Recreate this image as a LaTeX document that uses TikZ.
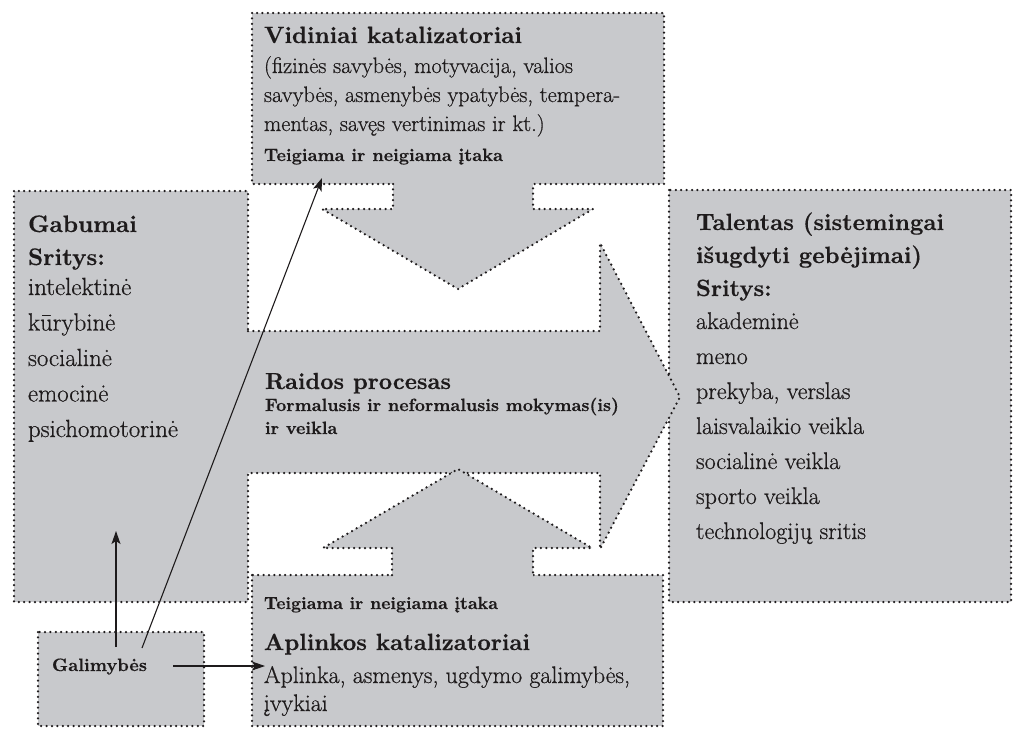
\documentclass[tikz,border=0pt]{standalone}
\usepackage{fontspec}
\usetikzlibrary{arrows.meta}
\newfontfamily\lmthick{lmroman17-regular.otf}[FakeBold=0.6]
\newfontfamily\lmbold{lmroman10-bold.otf}[FakeBold=0.4]
\definecolor{boxgray}{RGB}{200,201,204}
\definecolor{ink}{RGB}{30,27,28}
\newlength\fitlen
\newcommand\fitsize[4]{%
  \settowidth\fitlen{\fontsize{20}{24}\selectfont#3#4}%
  \pgfmathsetmacro#1{20*#2/\fitlen}\global\let#1#1}
\newcommand\fsz[1]{\fontsize{#1}{#1}\selectfont}
\tikzset{
  dotline/.style={draw=ink, line width=2.5pt, dash pattern=on 0pt off 5.4pt, line cap=round},
  graybox/.style={fill=boxgray},
  conn/.style={draw=ink, line width=1.1pt, -{Stealth[length=13pt,width=9pt,inset=3pt]}},
  txt/.style={text=ink, anchor=base west, inner sep=0pt, outer sep=0pt},
  vidhead/.style={txt, font=\lmbold\fsz{\szVidH}},
  vidbody/.style={txt, font=\lmthick\fsz{\szVidB}},
  vidsub/.style={txt, font=\lmbold\fsz{\szVidT}},
  gabhead/.style={txt, font=\lmbold\fsz{\szGabH}},
  gabitem/.style={txt, font=\lmthick\fsz{\szGabI}},
  talhead/.style={txt, font=\lmbold\fsz{\szTalH}},
  talitem/.style={txt, font=\lmthick\fsz{\szTalI}},
  raihead/.style={txt, font=\lmbold\fsz{\szRaiH}},
  raisub/.style={txt, font=\lmbold\fsz{\szRaiS}},
  aplsub/.style={txt, font=\lmbold\fsz{\szAplT}},
  aplhead/.style={txt, font=\lmbold\fsz{\szAplH}},
  aplbody/.style={txt, font=\lmthick\fsz{\szAplB}},
  galtxt/.style={txt, font=\lmbold\fsz{\szGal}},
}
\begin{document}
\fitsize\szVidH{258}{\lmbold}{Vidiniai katalizatoriai}%
\fitsize\szVidB{309}{\lmthick}{(fizinės savybės, motyvacija, valios}%
\fitsize\szVidT{239}{\lmbold}{Teigiama ir neigiama įtaka}%
\fitsize\szGabH{109}{\lmbold}{Gabumai}%
\fitsize\szGabI{150}{\lmthick}{psichomotorinė}%
\fitsize\szTalH{248}{\lmbold}{Talentas (sistemingai}%
\fitsize\szTalI{170}{\lmthick}{technologijų sritis}%
\fitsize\szRaiH{186}{\lmbold}{Raidos procesas}%
\fitsize\szRaiS{354}{\lmbold}{Formalusis ir neformalusis mokymas(is)}%
\fitsize\szAplT{234}{\lmbold}{Teigiama ir neigiama įtaka}%
\fitsize\szAplH{266}{\lmbold}{Aplinkos katalizatoriai}%
\fitsize\szAplB{366}{\lmthick}{Aplinka, asmenys, ugdymo galimybės,}%
\fitsize\szGal{95}{\lmbold}{Galimybės}%
\begin{tikzpicture}[x=1pt,y=-1pt]
\useasboundingbox (0,0) rectangle (1014,728);
% ---- box fills
\fill[graybox] (14,191) rectangle (248,602);
\fill[graybox] (252,13) rectangle (664,184);
\fill[graybox] (669,190) rectangle (1011,602);
\fill[graybox] (252,575) rectangle (663,726);
\fill[graybox] (38,632) rectangle (204,726);
% ---- box borders
\draw[dotline] (14,191) rectangle (248,602);
\draw[dotline] (252,13) rectangle (664,184);
\draw[dotline] (669,190) rectangle (1011,602);
\draw[dotline] (252,575) rectangle (663,726);
\draw[dotline] (38,632) rectangle (204,726);
% ---- development band with right arrow
\fill[graybox] (244,331) -- (600,331) -- (600,243) -- (680,397) -- (600,549) -- (600,473) -- (244,473) -- cycle;
\draw[dotline] (248,331) -- (600,331) -- (600,243) -- (680,397) -- (600,549) -- (600,473) -- (248,473);
% ---- down arrow
\fill[graybox] (393,180) -- (393,209) -- (322,209) -- (458,289) -- (593,209) -- (533,209) -- (533,180) -- cycle;
\draw[dotline] (393,184) -- (393,209) -- (322,209) -- (458,289) -- (593,209) -- (533,209) -- (533,184);
% ---- up arrow
\fill[graybox] (392,579) -- (392,548) -- (323,548) -- (458,469) -- (592,548) -- (533,548) -- (533,579) -- cycle;
\draw[dotline] (392,575) -- (392,548) -- (323,548) -- (458,469) -- (592,548) -- (533,548) -- (533,575);
% ---- top box texts
\node[vidhead] (vidH) at (264,43) {Vidiniai katalizatoriai};
\node[vidbody] (vid1) at (264,73) {(fizinės savybės, motyvacija, valios};
\node[vidbody] (vid2) at (264,102) {savybės, asmenybės ypatybės, tempera-};
\node[vidbody] (vid3) at (264,131) {mentas, savęs vertinimas ir kt.)};
\node[vidsub] (vidT) at (264,161) {Teigiama ir neigiama įtaka};
% ---- Gabumai texts
\node[gabhead] (gabH) at (28,232) {Gabumai};
\node[gabhead] (gabS) at (28,265) {Sritys:};
\node[gabitem] (gab1) at (28,295) {intelektinė};
\node[gabitem] (gab2) at (28,330.5) {kūrybinė};
\node[gabitem] (gab3) at (28,366) {socialinė};
\node[gabitem] (gab4) at (28,401.5) {emocinė};
\node[gabitem] (gab5) at (28,437) {psichomotorinė};
% ---- Talentas texts
\node[talhead] (talH1) at (696,230) {Talentas (sistemingai};
\node[talhead] (talH2) at (696,263) {išugdyti gebėjimai)};
\node[talhead] (talS) at (696,296) {Sritys:};
\node[talitem] (tal1) at (696,329) {akademinė};
\node[talitem] (tal2) at (696,364) {meno};
\node[talitem] (tal3) at (696,399) {prekyba, verslas};
\node[talitem] (tal4) at (696,434) {laisvalaikio veikla};
\node[talitem] (tal5) at (696,469) {socialinė veikla};
\node[talitem] (tal6) at (696,504) {sporto veikla};
\node[talitem] (tal7) at (696,539) {technologijų sritis};
% ---- band texts
\node[raihead] (raiH) at (265,389) {Raidos procesas};
\node[raisub] (rai1) at (265,411) {Formalusis ir neformalusis mokymas(is)};
\node[raisub] (rai2) at (265,434) {ir veikla};
% ---- bottom box texts
\node[aplsub] (aplT) at (264,609) {Teigiama ir neigiama įtaka};
\node[aplhead] (aplH) at (264,650) {Aplinkos katalizatoriai};
\node[aplbody] (apl1) at (264,683) {Aplinka, asmenys, ugdymo galimybės,};
\node[aplbody] (apl2) at (264,711) {įvykiai};
% ---- Galimybės
\node[galtxt] (gal) at (52,671) {Galimybės};
% ---- connectors
\coordinate (cUpS) at (116,647);
\coordinate (cUpE) at (116,531);
\coordinate (cDgS) at (142,648);
\coordinate (cDgE) at (322,178);
\coordinate (cRtS) at (173,666);
\coordinate (cRtE) at (265,666);
\draw[conn] (cUpS) -- (cUpE);
\draw[conn] (cDgS) -- (cDgE);
\draw[conn] (cRtS) -- (cRtE);
\end{tikzpicture}
\end{document}
